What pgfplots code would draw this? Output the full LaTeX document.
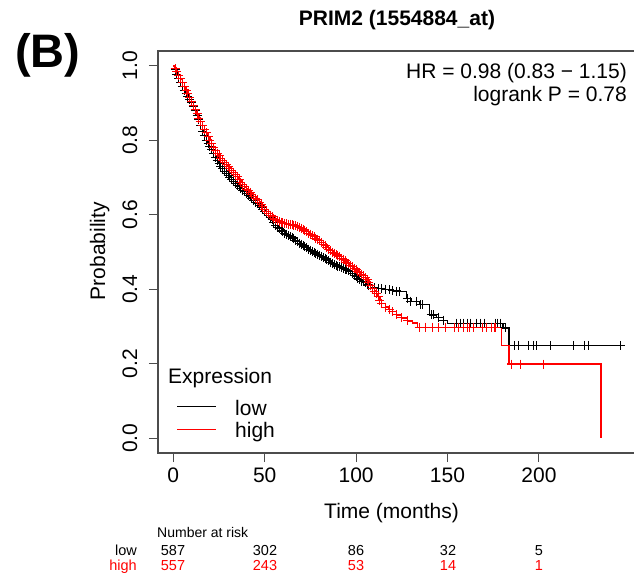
\documentclass[border=0pt]{standalone}
\usepackage{fontspec}
\setmainfont{Liberation Sans}
\usepackage{pgfplots}
\pgfplotsset{compat=1.18}
\usepackage{pgfplotstable}

\pgfplotstableread{
t p
0 1.000
1 0.990
2 0.978
3 0.966
4 0.955
5 0.945
6 0.935
7 0.925
8 0.918
9 0.910
10 0.903
11 0.892
12 0.880
13 0.868
14 0.856
15 0.840
16 0.825
17 0.812
18 0.800
19 0.792
20 0.784
21 0.775
22 0.765
23 0.755
24 0.745
25 0.738
26 0.730
27 0.724
28 0.717
29 0.711
30 0.705
31 0.700
32 0.695
33 0.690
34 0.685
35 0.680
36 0.675
37 0.670
38 0.666
39 0.662
40 0.658
41 0.653
42 0.648
43 0.643
44 0.639
45 0.634
46 0.630
47 0.625
48 0.620
49 0.615
50 0.610
51 0.604
52 0.598
53 0.592
54 0.586
55 0.579
56 0.572
57 0.567
58 0.563
59 0.559
60 0.555
61 0.551
62 0.548
63 0.544
64 0.541
65 0.538
66 0.535
67 0.531
68 0.528
69 0.524
70 0.521
71 0.518
72 0.515
73 0.511
74 0.508
75 0.505
76 0.502
77 0.499
78 0.497
79 0.494
80 0.491
81 0.488
82 0.485
83 0.482
84 0.479
85 0.476
86 0.473
87 0.470
88 0.467
89 0.464
90 0.462
91 0.460
92 0.458
93 0.456
94 0.454
95 0.452
96 0.450
97 0.447
98 0.443
99 0.438
100 0.434
101 0.430
102 0.425
103 0.422
104 0.420
105 0.417
106 0.414
107 0.411
108 0.409
110 0.404
112 0.402
114 0.401
116 0.400
118 0.398
120 0.397
122 0.395
124 0.393
127.7 0.376
130 0.368
134.5 0.358
140.3 0.331
144 0.325
147.6 0.317
150 0.309
180.3 0.296
183.6 0.249
245 0.249
}\lowcurve

\pgfplotstableread{
t p
0 1.000
1 0.993
2 0.985
3 0.975
4 0.965
5 0.955
6 0.945
7 0.935
8 0.925
9 0.915
10 0.905
11 0.893
12 0.882
13 0.871
14 0.860
15 0.850
16 0.840
17 0.830
18 0.820
19 0.810
20 0.800
21 0.791
22 0.782
23 0.773
24 0.765
25 0.758
26 0.752
27 0.746
28 0.740
29 0.735
30 0.730
31 0.725
32 0.719
33 0.714
34 0.708
35 0.702
36 0.695
37 0.688
38 0.681
39 0.675
40 0.669
41 0.665
42 0.660
43 0.655
44 0.650
45 0.645
46 0.640
47 0.634
48 0.628
49 0.621
50 0.615
51 0.609
52 0.604
53 0.599
54 0.595
55 0.591
56 0.588
57 0.585
58 0.582
59 0.580
60 0.578
61 0.577
62 0.576
63 0.575
64 0.574
65 0.573
66 0.572
67 0.571
68 0.569
69 0.567
70 0.564
71 0.561
72 0.558
73 0.555
74 0.551
75 0.548
76 0.544
77 0.541
78 0.537
79 0.534
80 0.530
81 0.526
82 0.521
83 0.517
84 0.512
85 0.508
86 0.504
87 0.500
88 0.497
89 0.493
90 0.490
91 0.487
92 0.483
93 0.480
94 0.476
95 0.472
96 0.468
97 0.464
98 0.460
99 0.456
100 0.452
101 0.448
102 0.444
103 0.440
104 0.436
105 0.431
106 0.425
107 0.418
108 0.410
109 0.403
110 0.395
111 0.388
112 0.380
113 0.371
114 0.362
116 0.352
118 0.345
120 0.340
122 0.331
125 0.323
128 0.315
131 0.309
133.5 0.298
179.6 0.249
183.6 0.199
234 0.000
}\highcurve

\pgfplotstableread{
t p
128 0.376
130 0.368
133 0.368
135 0.358
136.5 0.358
141 0.331
142.5 0.331
145 0.325
148 0.317
155 0.309
157 0.309
159 0.309
161 0.309
162.5 0.309
166 0.309
168 0.309
170 0.309
176.5 0.309
177.5 0.309
179 0.309
181.5 0.296
186.8 0.249
189 0.249
194.5 0.249
197.2 0.249
198.9 0.249
206.3 0.249
218.9 0.249
225 0.249
227.2 0.249
244.4 0.249
}\lowcens

\pgfplotstableread{
t p
125 0.323
128 0.315
134.5 0.298
138 0.298
142 0.298
145 0.298
149 0.298
154 0.298
156 0.298
158.5 0.298
161 0.298
162 0.298
164 0.298
169 0.298
171.5 0.298
174 0.298
176 0.298
185 0.199
189.7 0.199
202.4 0.199
}\highcens

\newcommand{\fs}[1]{\fontsize{#1}{#1}\selectfont}
\definecolor{kmred}{RGB}{255,0,0}

\begin{document}
\begin{tikzpicture}
\begin{axis}[
  at={(158pt,-453pt)}, anchor=south west,
  width=480pt, height=402pt, scale only axis,
  xmin=-8.37, xmax=254.2, ymin=-0.04, ymax=1.04,
  axis line style={black!70, line width=1.2pt},
  tick style={black!70, line width=1pt},
  major tick length=9pt, tick align=outside,
  xtick pos=bottom, ytick pos=left,
  xtick={0,50,100,150,200}, xticklabels={0,50,100,150,200},
  ytick={0,0.2,0.4,0.6,0.8,1}, yticklabels={0.0,0.2,0.4,0.6,0.8,1.0},
  xticklabel style={font=\fs{21}, anchor=base, inner sep=0pt, yshift=-20pt},
  yticklabel style={font=\fs{21}, inner sep=0pt, xshift=-12pt, rotate=90, anchor=base},
  /pgf/number format/assume math mode=true,
  clip=false,
]
\addplot[const plot, black, line width=1.2pt] table {\lowcurve};
\addplot[only marks, mark=+, mark size=4.5pt, black, mark options={line width=1pt}, restrict x to domain=0.5:124.5] table {\lowcurve};
\addplot[only marks, mark=+, mark size=4.5pt, black, mark options={line width=1pt}] table {\lowcens};
\addplot[const plot, kmred, line width=1.3pt] table {\highcurve};
\addplot[only marks, mark=+, mark size=4.5pt, kmred, mark options={line width=1pt}, restrict x to domain=0.5:122.5] table {\highcurve};
\addplot[only marks, mark=+, mark size=4.5pt, kmred, mark options={line width=1.1pt}] table {\highcens};
\end{axis}
\begin{scope}[x=1pt, y=-1pt]
  \node[anchor=base west, inner sep=0pt, font=\fs{47}\bfseries] at (15,67) {(B)};
  \node[anchor=base, inner sep=0pt, font=\fs{21}\bfseries] at (397,25) {PRIM2 (1554884\_at)};
  \node[anchor=base east, inner sep=0pt, font=\fs{21}] at (627,78) {HR = 0.98 (0.83 − 1.15)};
  \node[anchor=base east, inner sep=0pt, font=\fs{21}] at (627,101) {logrank P = 0.78};
  \node[anchor=base, inner sep=0pt, font=\fs{21}] at (391.5,518) {Time (months)};
  \node[anchor=base, inner sep=0pt, font=\fs{21}, rotate=90] at (105,251) {Probability};
  \node[anchor=base west, inner sep=0pt, font=\fs{21}] at (168,383) {Expression};
  \draw[draw=black, line width=1.2pt] (177,406.5) -- (216,406.5);
  \draw[draw=kmred, line width=1.5pt] (177,429.5) -- (216,429.5);
  \node[anchor=base west, inner sep=0pt, font=\fs{21}] at (235,415) {low};
  \node[anchor=base west, inner sep=0pt, font=\fs{21}] at (235,437.6) {high};
  \node[anchor=base west, inner sep=0pt, font=\fs{14}] at (157,537) {Number at risk};
  \node[anchor=base east, inner sep=0pt, font=\fs{14.5}] at (137,555) {low};
  \node[anchor=base east, inner sep=0pt, font=\fs{14.5}, text=kmred] at (137,570) {high};
  \foreach \xx/\n in {173/587, 265/302, 356/86, 448/32, 539/5}
    \node[anchor=base, inner sep=0pt, font=\fs{14.5}] at (\xx,555) {\n};
  \foreach \xx/\n in {173/557, 265/243, 356/53, 448/14, 539/1}
    \node[anchor=base, inner sep=0pt, font=\fs{14.5}, text=kmred] at (\xx,570) {\n};
\end{scope}
\pgfresetboundingbox
\path[use as bounding box] (0pt,0pt) rectangle (634pt,-579pt);
\end{tikzpicture}
\end{document}
